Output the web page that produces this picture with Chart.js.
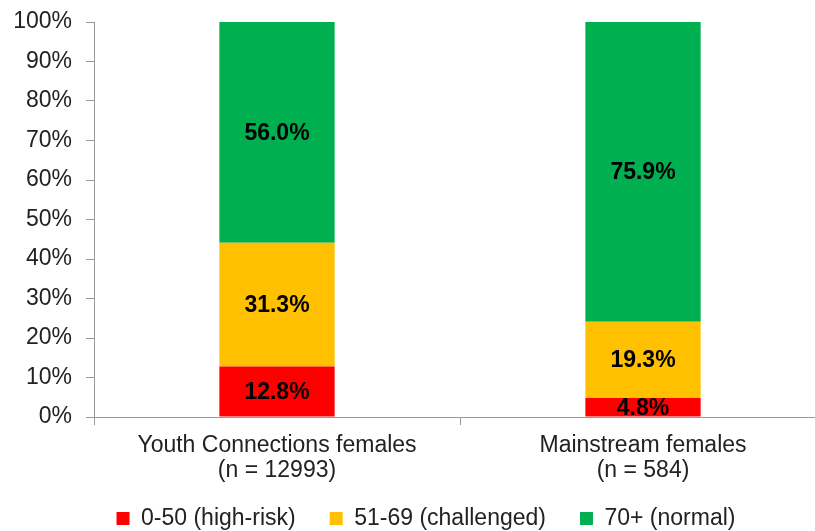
<!DOCTYPE html>
<html>
<head>
<meta charset="utf-8">
<script src="https://cdn.jsdelivr.net/npm/chart.js@4"></script>
<style>
  html, body { margin: 0; padding: 0; background: #fff; overflow: hidden; }
  #wrap { width: 826px; height: 531px; }
</style>
</head>
<body>
<div id="wrap"><canvas id="myChart"></canvas></div>
<script>
// data
var categories = [['Youth Connections females', '(n = 12993)'], ['Mainstream females', '(n = 584)']];
var seriesNames = ['0-50 (high-risk)', '51-69 (challenged)', '70+ (normal)'];
var highRisk = [12.8, 4.8];
var challenged = [31.3, 19.3];
var normal = [56.0, 75.9];
var yTicks = [0, 10, 20, 30, 40, 50, 60, 70, 80, 90, 100];

var colors = ['#FF0000', '#FFC000', '#00B050'];
var FONT = 'Arial, "Liberation Sans", sans-serif';

// value labels in the bars + a few layout nudges
var barLabels = {
  id: 'barLabels',
  afterLayout: function(chart) {
    chart.legend.top += 9;
    chart.legend.bottom += 9;
    chart.legend.left += 13;
    chart.legend.right += 13;
    // let the 2nd line of the category labels run into the legend box
    chart.scales.x.bottom += 40;
  },
  afterDatasetsDraw: function(chart) {
    var ctx = chart.ctx;
    ctx.save();
    ctx.font = 'bold 23px ' + FONT;
    ctx.fillStyle = '#000';
    ctx.textAlign = 'center';
    ctx.textBaseline = 'middle';
    chart.data.datasets.forEach(function(ds, i) {
      var meta = chart.getDatasetMeta(i);
      meta.data.forEach(function(bar, j) {
        var cy = (bar.y + bar.base) / 2;
        ctx.fillText(ds.data[j].toFixed(1) + '%', bar.x, cy + 1);
      });
    });
    ctx.restore();
  }
};

new Chart('myChart', {
  type: 'bar',
  data: {
    labels: categories,
    datasets: [
      { label: seriesNames[0], data: highRisk, backgroundColor: colors[0] },
      { label: seriesNames[1], data: challenged, backgroundColor: colors[1] },
      { label: seriesNames[2], data: normal, backgroundColor: colors[2] }
    ]
  },
  options: {
    responsive: true,
    maintainAspectRatio: false,
    animation: false,
    layout: { padding: { top: 22, right: 0, left: 0, bottom: 0 } },
    datasets: { bar: { categoryPercentage: 1, barPercentage: 0.315 } },
    plugins: {
      legend: {
        position: 'bottom',
        labels: {
          font: { size: 23, family: FONT },
          color: '#222',
          boxWidth: 13,
          boxHeight: 13,
          padding: 34
        }
      },
      tooltip: { enabled: false }
    },
    scales: {
      x: {
        stacked: true,
        afterFit: function(axis) { axis.height = 47; },
        grid: { display: true, drawOnChartArea: false, offset: true, tickLength: 8, color: '#999' },
        border: { display: true, color: '#999' },
        ticks: { font: { size: 23, family: FONT, lineHeight: 1.08 }, color: '#222', padding: 8 }
      },
      y: {
        stacked: true,
        min: 0,
        max: 100,
        afterBuildTicks: function(axis) {
          axis.ticks = yTicks.map(function(v) { return { value: v }; });
        },
        afterFit: function(axis) {
          axis.width = 94;
          axis.paddingTop = 0;
        },
        grid: { display: true, drawOnChartArea: false, tickLength: 8, color: '#999' },
        border: { display: true, color: '#999' },
        ticks: {
          font: { size: 23, family: FONT },
          color: '#222',
          padding: 14,
          callback: function(v) { return v + '%'; }
        }
      }
    }
  },
  plugins: [barLabels]
});
</script>
</body>
</html>
